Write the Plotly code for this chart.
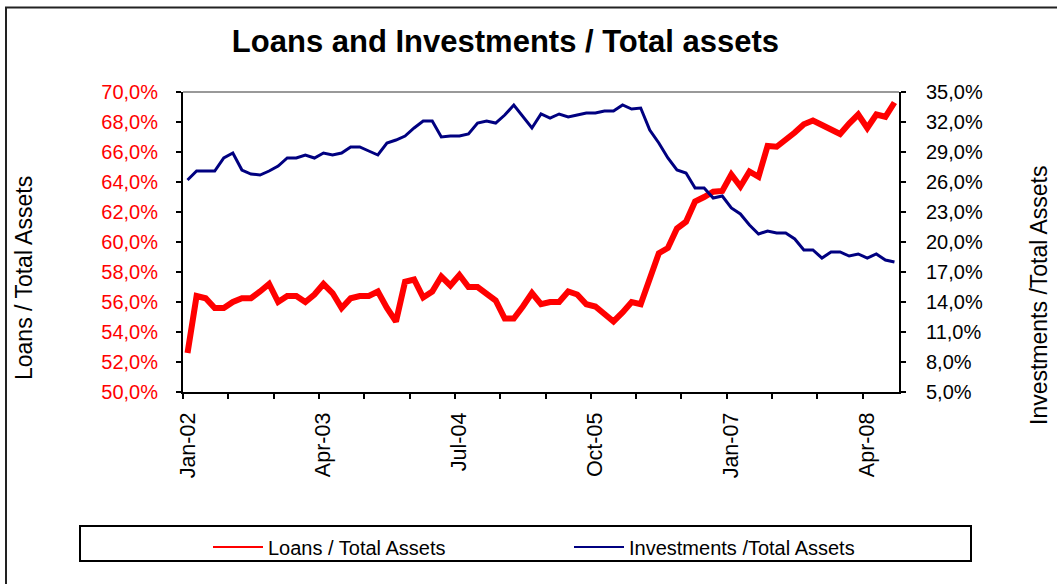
import pandas as pd
import plotly.graph_objects as go

# Monthly observations, Jan-2002 .. Jul-2008
months = [d.strftime("%b-%y") for d in pd.date_range("2002-01-01", periods=79, freq="MS")]

loans_pct = [
    52.6, 56.4, 56.25, 55.6, 55.6, 56.0, 56.25, 56.25, 56.7, 57.2,
    56.0, 56.4, 56.4, 56.0, 56.5, 57.2, 56.6, 55.6, 56.25, 56.4,
    56.4, 56.7, 55.6, 54.7, 57.35, 57.5, 56.3, 56.7, 57.7, 57.1,
    57.8, 57.0, 57.0, 56.5, 56.1, 54.9, 54.9, 55.7, 56.6, 55.85,
    56.0, 56.0, 56.7, 56.5, 55.85, 55.7, 55.2, 54.7, 55.3, 56.0,
    55.85, 57.5, 59.25, 59.6, 60.9, 61.35, 62.7, 63.0, 63.35, 63.4,
    64.5, 63.7, 64.7, 64.35, 66.4, 66.35, 66.8, 67.3, 67.85, 68.1,
    67.8, 67.5, 67.2, 67.9, 68.5, 67.6, 68.5, 68.35, 69.3,
]

investments_pct = [
    26.2, 27.1, 27.1, 27.1, 28.4, 28.9, 27.2, 26.8, 26.7, 27.1,
    27.6, 28.4, 28.4, 28.7, 28.4, 28.9, 28.7, 28.9, 29.5, 29.5,
    29.1, 28.7, 29.9, 30.2, 30.6, 31.4, 32.1, 32.1, 30.5, 30.6,
    30.6, 30.8, 31.9, 32.1, 31.9, 32.7, 33.7, 32.5, 31.4, 32.8,
    32.4, 32.8, 32.5, 32.7, 32.9, 32.9, 33.1, 33.1, 33.7, 33.3,
    33.4, 31.2, 29.9, 28.4, 27.2, 26.9, 25.4, 25.4, 24.4, 24.6,
    23.4, 22.8, 21.7, 20.8, 21.1, 20.9, 20.9, 20.3, 19.2, 19.2,
    18.4, 19.0, 19.0, 18.6, 18.8, 18.4, 18.8, 18.2, 18.0,
]

label_months = ["Jan-02", "Apr-03", "Jul-04", "Oct-05", "Jan-07", "Apr-08"]

RED = "#FF0000"
NAVY = "#000080"
FONT = "Liberation Sans, Arial, sans-serif"

# pixel helpers for the 716x300 plot area (left 183, top 92)
def px_x(p):
    return (p - 183) / 716

def px_y(p):
    return (392 - p) / 300

idx = list(range(len(months)))
label_idx = [months.index(m) for m in label_months]
boundaries = [i - 0.5 for i in range(0, len(months), 5)]

fig = go.Figure()
fig.add_trace(go.Scatter(x=idx, y=loans_pct, mode="lines", name="Loans / Total Assets",
                         line=dict(color=RED, width=6), showlegend=False, yaxis="y"))
fig.add_trace(go.Scatter(x=idx, y=investments_pct, mode="lines", name="Investments /Total Assets",
                         line=dict(color=NAVY, width=3), showlegend=False, yaxis="y2"))
# thin legend swatches, one legend box per series
fig.add_trace(go.Scatter(x=[None], y=[None], mode="lines", name="Loans / Total Assets",
                         line=dict(color=RED, width=2), legend="legend"))
fig.add_trace(go.Scatter(x=[None], y=[None], mode="lines", name="Investments /Total Assets",
                         line=dict(color=NAVY, width=2), legend="legend2"))

axis_common = dict(showgrid=False, zeroline=False, showline=True, linecolor="black", linewidth=2,
                   tickcolor="black", tickwidth=2)

legend_common = dict(orientation="h", xanchor="left", y=px_y(547), yanchor="middle",
                     bgcolor="rgba(0,0,0,0)", borderwidth=0,
                     font=dict(size=20, color="black"), itemwidth=50)

fig.update_layout(
    width=1057, height=584, autosize=False,
    margin=dict(l=183, r=158, t=92, b=192),
    paper_bgcolor="white", plot_bgcolor="white",
    separators=",.",
    font=dict(family=FONT, color="black"),
    title=dict(text="<b>Loans and Investments / Total assets</b>", font=dict(size=31, color="black"),
               x=505.5 / 1057, xref="container", xanchor="center",
               y=1 - 41 / 584, yref="container", yanchor="middle"),
    xaxis=dict(range=[-0.5, len(months) - 0.5], tickmode="array", tickvals=label_idx,
               ticktext=label_months, ticks="", tickangle=-90, tickfont=dict(size=21.5),
               ticklabelstandoff=10,
               minor=dict(tickvals=boundaries, ticks="outside", ticklen=5, tickwidth=2,
                          tickcolor="black"),
               **axis_common),
    yaxis=dict(range=[50, 70], tick0=50, dtick=2, ticks="outside", ticklen=5,
               tickformat=".1f", ticksuffix="%", tickfont=dict(size=20, color=RED),
               ticklabelstandoff=14, **axis_common),
    yaxis2=dict(range=[5, 35], tick0=5, dtick=3, ticks="outside", ticklen=5, overlaying="y",
                side="right", anchor="x", tickformat=".1f", ticksuffix="%",
                tickfont=dict(size=20, color="black"), ticklabelstandoff=16, **axis_common),
    # inner halves of the crossing ticks
    yaxis3=dict(range=[50, 70], tick0=50, dtick=2, ticks="inside", ticklen=4, overlaying="y",
                side="left", anchor="x", showticklabels=False, showgrid=False, zeroline=False,
                showline=False, tickcolor="black", tickwidth=2),
    yaxis4=dict(range=[5, 35], tick0=5, dtick=3, ticks="inside", ticklen=4, overlaying="y",
                side="right", anchor="x", showticklabels=False, showgrid=False, zeroline=False,
                showline=False, tickcolor="black", tickwidth=2),
    legend=dict(x=px_x(208), **legend_common),
    legend2=dict(x=px_x(569), **legend_common),
    shapes=[
        # outer chart frame
        dict(type="rect", xref="paper", yref="paper", x0=px_x(6), x1=1.4,
             y0=-0.8, y1=px_y(7.5), line=dict(color="#222222", width=2)),
        # plot-area top edge
        dict(type="line", xref="paper", yref="paper", x0=0, x1=1, y0=1, y1=1,
             line=dict(color="#999999", width=2)),
        # legend frame
        dict(type="rect", xref="paper", yref="paper", x0=px_x(80), x1=px_x(971),
             y0=px_y(561), y1=px_y(526), line=dict(color="black", width=2)),
    ],
    annotations=[
        dict(text="Loans / Total Assets", xref="paper", yref="paper", x=px_x(24),
             y=px_y(278), textangle=-90, showarrow=False, xanchor="center",
             yanchor="middle", font=dict(size=23, color="black")),
        dict(text="Investments /Total Assets", xref="paper", yref="paper", x=px_x(1039),
             y=px_y(295), textangle=-90, showarrow=False, xanchor="center",
             yanchor="middle", font=dict(size=23, color="black")),
    ],
)

fig.write_html("out.html")
